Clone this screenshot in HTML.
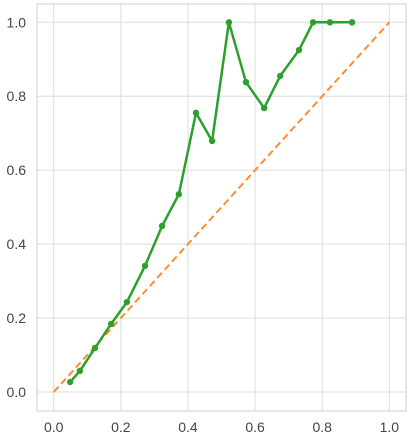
<!DOCTYPE html>
<html><head><meta charset="utf-8"><style>
html,body{margin:0;padding:0;background:#fff;}
svg{display:block;font-family:"Liberation Sans","DejaVu Sans",sans-serif;}
</style></head><body>
<svg id="chart" width="414" height="448"></svg>
<script>
const xValues=[0.049,0.078,0.123,0.171,0.218,0.272,0.323,0.373,0.424,0.472,0.522,0.573,0.627,0.675,0.731,0.773,0.823,0.889];
const yValues=[0.027,0.057,0.119,0.184,0.243,0.341,0.449,0.535,0.755,0.679,1.0,0.838,0.768,0.855,0.925,1.0,1.0,1.0];
const xTicks=[0,0.2,0.4,0.6,0.8,1.0];
const yTicks=[0,0.2,0.4,0.6,0.8,1.0];
const tickLabels=["0.0","0.2","0.4","0.6","0.8","1.0"];
const diagonal=[0,1];

const NS="http://www.w3.org/2000/svg";
const svg=document.getElementById('chart');
const L=37,R=406,T=4,B=411;
const sx=v=>53.7+v*335.6;
const sy=v=>392-v*369.7;
function mk(tag,attrs,parent){const e=document.createElementNS(NS,tag);for(const k in attrs)e.setAttribute(k,attrs[k]);(parent||svg).appendChild(e);return e;}

const grid=mk('g',{});


xTicks.forEach((t,i)=>{
  const l=mk('line',{x1:sx(t),x2:sx(t),y1:T,y2:B,stroke:'#dcdcdc','stroke-width':1},grid);
  
  
  const tx=mk('text',{x:sx(t),y:432,'text-anchor':'middle','font-size':14,fill:'#444'});
  tx.textContent=tickLabels[i];
  
  
});
yTicks.forEach((t,i)=>{
  const l=mk('line',{x1:L,x2:R,y1:sy(t),y2:sy(t),stroke:'#dcdcdc','stroke-width':1},grid);
  
  
  const tx=mk('text',{x:26,y:sy(t)+5,'text-anchor':'end','font-size':14,fill:'#444'});
  tx.textContent=tickLabels[i];
  
  
});
const frame=mk('rect',{x:L,y:T,width:R-L,height:B-T,fill:'none',stroke:'#d6d6d6','stroke-width':1.2});



const diag=mk('line',{x1:sx(diagonal[0]),y1:sy(diagonal[0]),x2:sx(diagonal[1]),y2:sy(diagonal[1]),stroke:'#ff8c2e','stroke-width':2,'stroke-dasharray':'7,4'});



const pts=xValues.map((x,i)=>sx(x)+','+sy(yValues[i])).join(' ');
const line=mk('polyline',{points:pts,fill:'none',stroke:'#2ca02c','stroke-width':2.5,'stroke-linejoin':'round'});


xValues.forEach((x,i)=>{
  const c=mk('circle',{cx:sx(x),cy:sy(yValues[i]),r:3.2,fill:'#2ca02c'});
  
  
});
</script>
</body></html>
